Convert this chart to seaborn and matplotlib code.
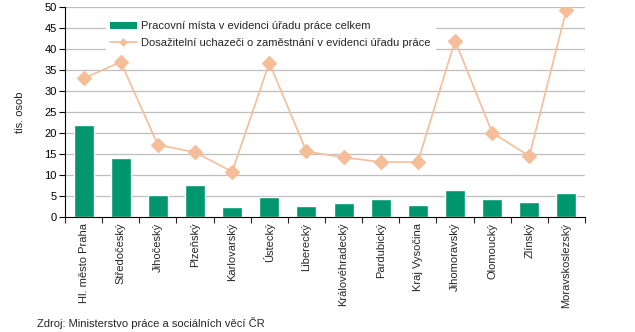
import numpy as np
import pandas as pd
import matplotlib
matplotlib.use("Agg")
import matplotlib.pyplot as plt
from matplotlib.lines import Line2D
from matplotlib.patches import Patch
import seaborn as sns

regions = ["Hl. město Praha", "Středočeský", "Jihočeský", "Plzeňský", "Karlovarský",
           "Ústecký", "Liberecký", "Královéhradecký", "Pardubický", "Kraj Vysočina",
           "Jihomoravský", "Olomoucký", "Zlínský", "Moravskoslezský"]
jobs = [22.0, 14.1, 5.3, 7.7, 2.4, 4.8, 2.6, 3.3, 4.3, 2.9, 6.5, 4.3, 3.6, 5.8]
applicants = [33.0, 36.9, 17.2, 15.4, 10.8, 36.7, 15.6, 14.2, 13.1, 13.1, 42.0, 20.1, 14.5, 49.4]
yticks = list(range(0, 51, 5))

label_jobs = "Pracovní místa v evidenci úřadu práce celkem"
label_app = "Dosažitelní uchazeči o zaměstnání v evidenci úřadu práce"
source = "Zdroj: Ministerstvo práce a sociálních věcí ČR"

green = "#009670"
peach = "#F5BE98"

sns.set_style("white")
plt.rcParams["font.family"] = ["Liberation Sans", "DejaVu Sans"]

df = pd.DataFrame({"region": regions, "jobs": jobs, "app": applicants})

fig = plt.figure(figsize=(6.35, 3.32), dpi=100)
ax = fig.add_axes([65/635, 1 - 217/332, 520/635, 210/332])

for y in yticks[1:]:
    ax.axhline(y, color="#BFBFBF", lw=0.9, zorder=0)

sns.barplot(data=df, x="region", y="jobs", color=green, width=0.54,
            saturation=1, ax=ax, zorder=2)
sns.pointplot(data=df, x="region", y="app", color=peach, markers="D",
              markersize=7, linewidth=1.2, ax=ax, zorder=3)

ax.set_xlim(-0.5, len(regions) - 0.5)
ax.set_ylim(0, 50)
ax.set_yticks(yticks)
ax.tick_params(axis="y", labelsize=8, length=4, width=0.8, direction="out",
               left=True, pad=2, colors="black")
ax.set_xticks(range(len(regions)))
ax.set_xticklabels(regions, rotation=90, fontsize=8)
ax.tick_params(axis="x", which="major", length=0, pad=4)
ax.set_xticks(np.arange(-0.5, len(regions), 1.0), minor=True)
ax.tick_params(axis="x", which="minor", length=4, width=0.8, direction="out",
               bottom=True)
ax.set_xlabel("")
ax.set_ylabel("tis. osob", fontsize=8, labelpad=14)

for s in ["top", "right"]:
    ax.spines[s].set_visible(False)
for s in ["left", "bottom"]:
    ax.spines[s].set_color("black")
    ax.spines[s].set_linewidth(0.8)

handles = [Patch(facecolor=green, edgecolor="none"),
           Line2D([0], [0], color=peach, lw=1.2, marker="D", markersize=3.5)]
leg = ax.legend(handles, [label_jobs, label_app], loc="upper left",
                bbox_to_anchor=(100/635, 1 - 11/332), bbox_transform=fig.transFigure,
                frameon=True, fontsize=8, handlelength=2.4, handleheight=0.6,
                handletextpad=0.35, labelspacing=0.6, borderpad=0.4)
leg.get_frame().set_facecolor("white")
leg.get_frame().set_edgecolor("white")
leg.get_frame().set_alpha(1)
leg.set_zorder(5)

fig.text(37/635, 1 - 323/332, source, fontsize=8, va="center", ha="left")

fig.savefig("out.png", dpi=100)
